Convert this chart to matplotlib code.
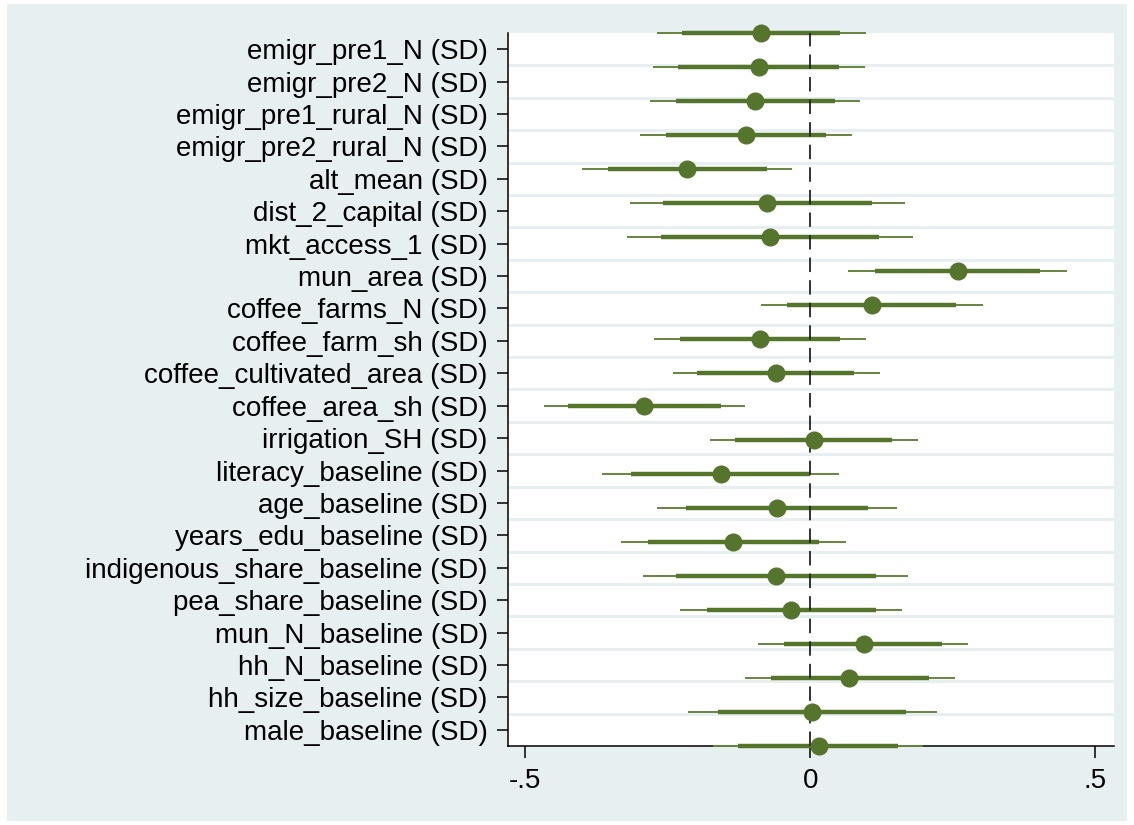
import numpy as np
import matplotlib
matplotlib.use("Agg")
import matplotlib.pyplot as plt
from matplotlib.patches import Rectangle

plt.rcParams['font.family'] = ['Liberation Sans', 'DejaVu Sans']

labels = [
    "emigr_pre1_N (SD)", "emigr_pre2_N (SD)", "emigr_pre1_rural_N (SD)",
    "emigr_pre2_rural_N (SD)", "alt_mean (SD)", "dist_2_capital (SD)",
    "mkt_access_1 (SD)", "mun_area (SD)", "coffee_farms_N (SD)",
    "coffee_farm_sh (SD)", "coffee_cultivated_area (SD)", "coffee_area_sh (SD)",
    "irrigation_SH (SD)", "literacy_baseline (SD)", "age_baseline (SD)",
    "years_edu_baseline (SD)", "indigenous_share_baseline (SD)",
    "pea_share_baseline (SD)", "mun_N_baseline (SD)", "hh_N_baseline (SD)",
    "hh_size_baseline (SD)", "male_baseline (SD)",
]
coef = [-0.087, -0.089, -0.096, -0.113, -0.216, -0.075, -0.071, 0.259, 0.108,
        -0.088, -0.060, -0.291, 0.006, -0.157, -0.058, -0.135, -0.060, -0.033,
        0.094, 0.069, 0.004, 0.015]
ci90_lo = [-0.225, -0.231, -0.236, -0.253, -0.355, -0.258, -0.261, 0.114, -0.040,
           -0.229, -0.198, -0.424, -0.131, -0.315, -0.217, -0.284, -0.236, -0.181,
           -0.046, -0.069, -0.162, -0.126]
ci90_hi = [0.053, 0.051, 0.043, 0.028, -0.076, 0.108, 0.120, 0.404, 0.255,
           0.053, 0.077, -0.157, 0.144, 0.000, 0.102, 0.015, 0.115, 0.115,
           0.232, 0.209, 0.169, 0.154]
ci95_lo = [-0.269, -0.276, -0.281, -0.298, -0.400, -0.316, -0.322, 0.067, -0.086,
           -0.274, -0.241, -0.467, -0.175, -0.365, -0.268, -0.332, -0.293, -0.228,
           -0.091, -0.114, -0.214, -0.171]
ci95_hi = [0.098, 0.097, 0.088, 0.073, -0.031, 0.166, 0.180, 0.451, 0.303,
           0.098, 0.122, -0.114, 0.189, 0.051, 0.152, 0.063, 0.171, 0.162,
           0.277, 0.254, 0.222, 0.198]
xticks = [-0.5, 0, 0.5]
xticklabels = ["-.5", "0", ".5"]

bg = "#E8EFF1"
green = "#55752D"
green_light = "#66843F"

fig = plt.figure(figsize=(11.34, 8.25), dpi=100, facecolor="white")
fig.patches.append(Rectangle((7 / 1134, 4 / 825), 1120 / 1134, 817 / 825,
                             transform=fig.transFigure, facecolor=bg,
                             edgecolor="none", zorder=-10))
ax = fig.add_axes([508 / 1134, 1 - 746 / 825, 606 / 1134, 713 / 825])
ax.set_facecolor("white")

n = len(labels)
tick_pos = np.arange(1, n + 1)
# coefplot spreads the markers over the full axis range
mark_pos = np.linspace(0.5, n + 0.5, n)

for y in np.arange(1.5, n, 1.0):
    ax.axhline(y, color=bg, lw=2.2, zorder=1)

ax.hlines(mark_pos, ci95_lo, ci95_hi, color=green_light, lw=1.4, zorder=3,
          capstyle="butt", clip_on=False)
ax.hlines(mark_pos, ci90_lo, ci90_hi, color=green, lw=3.2, zorder=3,
          capstyle="butt", clip_on=False)
ax.axvline(0, color="#222222", lw=1.3, dashes=(8, 4.5), zorder=4)
ax.plot(coef, mark_pos, "o", color=green, ms=12, mec=green, zorder=5,
        clip_on=False)

ax.set_xlim(-0.53, 0.533)
ax.set_ylim(n + 0.5, 0.5)
ax.set_yticks(tick_pos)
ax.set_yticklabels(labels)
ax.set_xticks(xticks)
ax.set_xticklabels(xticklabels)
ax.tick_params(axis="y", length=8, width=1.1, pad=6.5, labelsize=20)
ax.tick_params(axis="x", length=8.5, width=1.1, pad=7, labelsize=20)

for s in ["top", "right"]:
    ax.spines[s].set_visible(False)
for s in ["left", "bottom"]:
    ax.spines[s].set_linewidth(1.1)

fig.savefig("out.png", dpi=100, facecolor=fig.get_facecolor())
